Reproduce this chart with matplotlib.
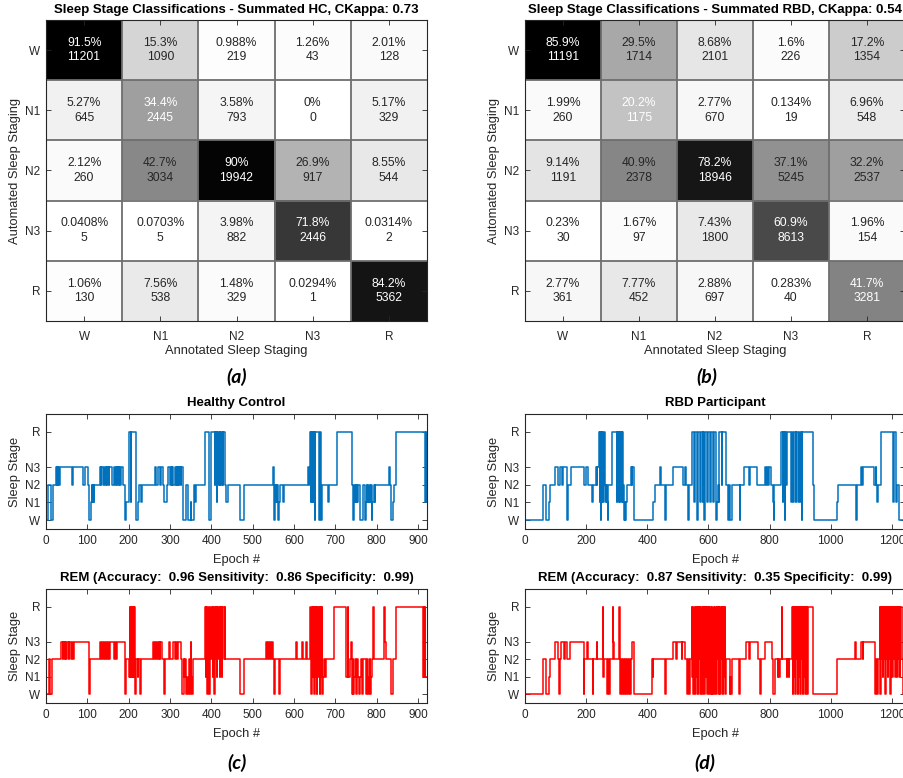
import matplotlib
matplotlib.use('agg')
import matplotlib.pyplot as plt
import numpy as np

plt.rcParams['font.family'] = ['Liberation Sans', 'DejaVu Sans']

# confusion matrices: rows = automated, columns = annotated
stages = ['W', 'N1', 'N2', 'N3', 'R']
hc_counts = [[11201, 1090, 219, 43, 128],
             [645, 2445, 793, 0, 329],
             [260, 3034, 19942, 917, 544],
             [5, 5, 882, 2446, 2],
             [130, 538, 329, 1, 5362]]
rbd_counts = [[11191, 1714, 2101, 226, 1354],
              [260, 1175, 670, 19, 548],
              [1191, 2378, 18946, 5245, 2537],
              [30, 97, 1800, 8613, 154],
              [361, 452, 697, 40, 3281]]
hc_title = 'Sleep Stage Classifications - Summated HC, CKappa: 0.73'
rbd_title = 'Sleep Stage Classifications - Summated RBD, CKappa: 0.54'

stage_val = {'W': 0, 'N1': 1, 'N2': 2, 'N3': 3, 'R': 5}

# hypnograms as (start epoch, stage) change points
hc_end = 922
hc_auto = [(0, 'W'), (6, 'N2'), (12, 'W'), (16, 'N2'), (24, 'N3'), (26, 'N2'), (27, 'N3'), (29, 'N2'),
           (30, 'N3'), (32, 'N2'), (33, 'N3'), (62, 'N2'), (66, 'N3'), (90, 'N2'), (94, 'N3'),
           (102, 'N2'), (104, 'W'), (109, 'N1'), (111, 'N2'), (112, 'N1'), (114, 'N2'), (115, 'N1'),
           (117, 'N2'), (130, 'N3'), (133, 'N2'), (134, 'N3'), (137, 'N2'), (141, 'N3'), (143, 'N2'),
           (144, 'N3'), (147, 'N2'), (148, 'N3'), (152, 'N2'), (153, 'N3'), (159, 'N2'), (165, 'N3'),
           (167, 'N2'), (169, 'N3'), (172, 'N2'), (173, 'N3'), (176, 'N2'), (177, 'N3'), (180, 'N2'),
           (181, 'N3'), (187, 'N2'), (191, 'W'), (193, 'N1'), (202, 'R'), (205, 'N1'), (206, 'R'),
           (218, 'N1'), (219, 'W'), (222, 'N1'), (224, 'N2'), (229, 'N1'), (233, 'N2'), (264, 'N3'),
           (266, 'N2'), (270, 'N3'), (271, 'N2'), (272, 'N3'), (277, 'N2'), (278, 'N3'), (283, 'N2'),
           (286, 'N1'), (292, 'N2'), (296, 'N3'), (299, 'N2'), (302, 'N3'), (304, 'N2'), (305, 'N3'),
           (308, 'N2'), (312, 'N3'), (315, 'N2'), (316, 'N3'), (318, 'N2'), (319, 'N3'), (322, 'N2'),
           (323, 'N3'), (326, 'N2'), (327, 'N3'), (332, 'W'), (340, 'N2'), (344, 'W'), (350, 'N1'),
           (351, 'W'), (357, 'N1'), (359, 'N2'), (361, 'N1'), (363, 'N2'), (385, 'R'), (394, 'N1'),
           (395, 'W'), (399, 'R'), (408, 'N2'), (410, 'R'), (413, 'N1'), (414, 'R'), (417, 'N2'),
           (418, 'R'), (421, 'N2'), (422, 'R'), (424, 'N2'), (425, 'R'), (428, 'N2'), (429, 'R'),
           (432, 'N2'), (436, 'N1'), (440, 'N2'), (469, 'W'), (479, 'N2'), (549, 'N3'), (551, 'N2'),
           (552, 'W'), (553, 'N1'), (554, 'N2'), (555, 'N1'), (557, 'N2'), (558, 'N1'), (560, 'N2'),
           (561, 'N1'), (562, 'W'), (564, 'N1'), (567, 'N2'), (573, 'N1'), (575, 'N2'), (635, 'N3'),
           (637, 'N2'), (639, 'R'), (641, 'N1'), (642, 'R'), (644, 'N1'), (645, 'R'), (647, 'N1'),
           (648, 'R'), (650, 'W'), (651, 'R'), (660, 'W'), (662, 'R'), (665, 'W'), (667, 'N1'),
           (668, 'N2'), (683, 'N1'), (686, 'N2'), (703, 'R'), (740, 'N2'), (742, 'W'), (745, 'N2'),
           (747, 'N1'), (749, 'N2'), (750, 'N1'), (752, 'N2'), (753, 'N1'), (756, 'N2'), (760, 'W'),
           (768, 'N2'), (772, 'W'), (775, 'N1'), (776, 'N2'), (777, 'N1'), (779, 'N2'), (780, 'N1'),
           (783, 'N2'), (784, 'N1'), (787, 'N2'), (788, 'W'), (790, 'N1'), (793, 'N2'), (796, 'N1'),
           (797, 'N2'), (830, 'N3'), (832, 'N2'), (834, 'W'), (839, 'N1'), (841, 'N2'), (848, 'R'),
           (916, 'N1'), (917, 'R'), (918, 'N1'), (919, 'R'), (920, 'N1')]

hc_rem = [(0, 'W'), (8, 'N2'), (10, 'W'), (14, 'N2'), (36, 'N3'), (40, 'N2'), (42, 'N3'), (45, 'N2'),
          (46, 'N3'), (48, 'N2'), (50, 'N3'), (55, 'N2'), (56, 'N3'), (60, 'N2'), (62, 'N3'),
          (66, 'N2'), (67, 'N3'), (103, 'W'), (107, 'N2'), (130, 'N3'), (134, 'N2'), (135, 'N3'),
          (138, 'N2'), (140, 'N3'), (143, 'N2'), (145, 'N3'), (148, 'N2'), (149, 'N3'), (152, 'N2'),
          (154, 'N3'), (165, 'N2'), (166, 'N3'), (170, 'N2'), (171, 'N3'), (190, 'W'), (193, 'N2'),
          (202, 'N1'), (203, 'R'), (204, 'N1'), (205, 'R'), (207, 'N1'), (208, 'R'), (210, 'N1'),
          (211, 'R'), (213, 'N1'), (214, 'R'), (216, 'W'), (218, 'N1'), (219, 'N2'), (222, 'N1'),
          (223, 'N2'), (228, 'W'), (230, 'N2'), (258, 'N3'), (261, 'N2'), (263, 'N3'), (266, 'N2'),
          (268, 'N3'), (270, 'N2'), (273, 'N3'), (275, 'N2'), (277, 'N3'), (281, 'N2'), (286, 'W'),
          (288, 'N2'), (297, 'N3'), (299, 'N2'), (307, 'N3'), (312, 'N2'), (314, 'N3'), (318, 'N2'),
          (320, 'N3'), (326, 'N2'), (330, 'W'), (333, 'N2'), (335, 'N1'), (337, 'N2'), (339, 'W'),
          (341, 'N1'), (343, 'W'), (345, 'N1'), (347, 'N2'), (348, 'W'), (350, 'N3'), (351, 'N1'),
          (353, 'W'), (356, 'N2'), (385, 'R'), (387, 'N1'), (388, 'R'), (390, 'W'), (392, 'R'),
          (394, 'W'), (396, 'N1'), (398, 'R'), (400, 'N2'), (402, 'R'), (404, 'N1'), (405, 'R'),
          (407, 'W'), (409, 'R'), (411, 'N2'), (412, 'R'), (414, 'N1'), (415, 'R'), (417, 'N2'),
          (418, 'R'), (420, 'N1'), (421, 'R'), (423, 'N2'), (424, 'R'), (426, 'N1'), (427, 'R'),
          (430, 'N2'), (432, 'R'), (434, 'N2'), (470, 'W'), (478, 'N2'), (533, 'N3'), (536, 'N2'),
          (537, 'N3'), (540, 'N2'), (542, 'N3'), (545, 'N2'), (546, 'N3'), (550, 'N2'), (552, 'W'),
          (554, 'N2'), (564, 'W'), (566, 'N2'), (606, 'N3'), (608, 'N2'), (620, 'N3'), (622, 'N2'),
          (630, 'N3'), (632, 'N2'), (640, 'R'), (642, 'W'), (644, 'R'), (645, 'N1'), (647, 'R'),
          (648, 'W'), (650, 'R'), (652, 'N1'), (653, 'R'), (655, 'W'), (657, 'R'), (658, 'N1'),
          (660, 'R'), (662, 'W'), (664, 'R'), (666, 'N1'), (667, 'R'), (669, 'W'), (671, 'N1'),
          (673, 'N2'), (676, 'N1'), (678, 'N2'), (697, 'R'), (727, 'N1'), (730, 'R'), (732, 'N1'),
          (735, 'N2'), (738, 'N3'), (740, 'W'), (742, 'N2'), (744, 'W'), (746, 'N1'), (748, 'N2'),
          (750, 'W'), (752, 'N2'), (755, 'N1'), (757, 'W'), (759, 'N1'), (762, 'N2'), (764, 'W'),
          (766, 'N1'), (768, 'N2'), (775, 'W'), (778, 'N2'), (780, 'W'), (782, 'N1'), (783, 'N2'),
          (785, 'W'), (787, 'N1'), (789, 'N2'), (791, 'R'), (793, 'N2'), (818, 'R'), (820, 'N3'),
          (822, 'N2'), (835, 'W'), (840, 'N2'), (846, 'R'), (913, 'N1'), (914, 'R'), (915, 'N1'),
          (916, 'R'), (917, 'N1')]

rbd_end = 1243
rbd_auto = [(0, 'W'), (58, 'N1'), (60, 'N2'), (68, 'W'), (80, 'N1'), (82, 'N2'), (98, 'N3'), (108, 'N2'),
            (113, 'N3'), (122, 'N2'), (124, 'N3'), (138, 'W'), (141, 'N2'), (150, 'N3'), (193, 'N2'),
            (201, 'N3'), (205, 'N2'), (220, 'N1'), (222, 'N2'), (232, 'N3'), (234, 'N2'), (236, 'N3'),
            (241, 'R'), (244, 'N1'), (246, 'R'), (249, 'W'), (250, 'R'), (252, 'N1'), (253, 'R'),
            (256, 'N1'), (257, 'R'), (262, 'N2'), (264, 'N1'), (266, 'N2'), (268, 'N1'), (270, 'W'),
            (273, 'N2'), (283, 'R'), (300, 'N1'), (302, 'R'), (304, 'N2'), (305, 'R'), (307, 'N1'),
            (308, 'R'), (310, 'N1'), (311, 'R'), (313, 'N2'), (314, 'R'), (316, 'N1'), (317, 'R'),
            (319, 'N1'), (321, 'N2'), (323, 'W'), (326, 'N1'), (328, 'W'), (331, 'N1'), (333, 'N2'),
            (348, 'N3'), (350, 'N2'), (351, 'N3'), (356, 'N2'), (358, 'W'), (420, 'N1'), (424, 'N2'),
            (443, 'N3'), (446, 'N2'), (459, 'W'), (461, 'N2'), (484, 'N3'), (517, 'N2'), (522, 'N3'),
            (526, 'N2'), (534, 'W'), (537, 'N2'), (545, 'R'), (553, 'N1'), (555, 'R'), (563, 'W'),
            (565, 'R'), (573, 'N1'), (575, 'R'), (581, 'N1'), (583, 'R'), (586, 'W'), (588, 'R'),
            (595, 'N1'), (597, 'R'), (605, 'N1'), (607, 'R'), (615, 'N1'), (617, 'R'), (626, 'W'),
            (628, 'N1'), (632, 'N2'), (634, 'N1'), (636, 'R'), (644, 'N2'), (645, 'R'), (658, 'N2'),
            (664, 'N1'), (665, 'W'), (668, 'N2'), (670, 'W'), (678, 'N2'), (702, 'W'), (704, 'N2'),
            (716, 'N3'), (734, 'N2'), (737, 'N3'), (760, 'N2'), (785, 'N3'), (788, 'N2'), (790, 'N3'),
            (795, 'N2'), (797, 'N3'), (806, 'N2'), (810, 'N1'), (813, 'W'), (815, 'N2'), (839, 'R'),
            (843, 'N1'), (845, 'R'), (850, 'W'), (852, 'R'), (855, 'N2'), (856, 'R'), (870, 'N1'),
            (872, 'R'), (878, 'N1'), (880, 'R'), (886, 'N1'), (888, 'R'), (893, 'N1'), (895, 'R'),
            (900, 'N1'), (902, 'R'), (905, 'W'), (907, 'R'), (942, 'N2'), (944, 'W'), (1020, 'N1'),
            (1023, 'N2'), (1082, 'W'), (1085, 'N2'), (1100, 'N3'), (1103, 'N2'), (1105, 'N3'),
            (1143, 'N2'), (1147, 'N3'), (1149, 'N2'), (1150, 'N1'), (1152, 'N2'), (1153, 'N1'),
            (1156, 'N2'), (1165, 'R'), (1203, 'N1'), (1206, 'R'), (1212, 'N2'), (1215, 'N1'),
            (1218, 'N2'), (1225, 'W')]

rbd_rem = [(0, 'W'), (60, 'N2'), (69, 'W'), (80, 'N1'), (82, 'N2'), (98, 'N3'), (108, 'N2'), (112, 'W'),
           (114, 'N2'), (118, 'N3'), (128, 'N2'), (132, 'N3'), (138, 'N2'), (148, 'N3'), (192, 'W'),
           (194, 'N2'), (202, 'N3'), (206, 'N2'), (222, 'W'), (224, 'N2'), (234, 'N3'), (236, 'N2'),
           (254, 'R'), (256, 'N1'), (258, 'N2'), (268, 'W'), (270, 'N2'), (276, 'W'), (278, 'N2'),
           (287, 'R'), (289, 'N3'), (292, 'N2'), (309, 'R'), (311, 'W'), (313, 'N2'), (318, 'W'),
           (320, 'N2'), (325, 'W'), (327, 'N2'), (332, 'W'), (334, 'N2'), (338, 'W'), (340, 'N2'),
           (344, 'W'), (346, 'N2'), (349, 'N3'), (358, 'W'), (414, 'N2'), (418, 'N1'), (420, 'N2'),
           (459, 'W'), (461, 'N2'), (485, 'N3'), (494, 'N2'), (497, 'N3'), (512, 'N2'), (515, 'N3'),
           (522, 'N2'), (530, 'W'), (532, 'N2'), (538, 'W'), (540, 'N2'), (545, 'R'), (547, 'N1'),
           (549, 'R'), (551, 'W'), (553, 'N2'), (555, 'R'), (557, 'W'), (559, 'R'), (561, 'N1'),
           (563, 'R'), (565, 'W'), (567, 'R'), (569, 'N2'), (571, 'R'), (573, 'W'), (575, 'N1'),
           (577, 'R'), (579, 'W'), (581, 'R'), (583, 'N2'), (585, 'R'), (587, 'W'), (589, 'R'),
           (591, 'N1'), (593, 'R'), (595, 'W'), (597, 'R'), (599, 'N2'), (601, 'R'), (603, 'W'),
           (605, 'R'), (607, 'N1'), (609, 'W'), (611, 'R'), (613, 'W'), (615, 'N2'), (617, 'R'),
           (619, 'W'), (621, 'N1'), (623, 'R'), (625, 'W'), (627, 'R'), (629, 'N2'), (631, 'R'),
           (633, 'W'), (635, 'R'), (637, 'N1'), (639, 'W'), (641, 'R'), (643, 'N2'), (645, 'R'),
           (647, 'W'), (649, 'R'), (651, 'N1'), (653, 'R'), (655, 'W'), (658, 'N2'), (670, 'W'),
           (672, 'N1'), (674, 'W'), (676, 'N2'), (700, 'W'), (702, 'N2'), (722, 'N3'), (732, 'N2'),
           (736, 'N3'), (762, 'N2'), (770, 'W'), (773, 'N2'), (785, 'N3'), (808, 'N2'), (812, 'W'),
           (818, 'N2'), (826, 'N1'), (828, 'N2'), (832, 'N1'), (834, 'N2'), (840, 'R'), (842, 'N2'),
           (856, 'N1'), (858, 'N2'), (862, 'N1'), (864, 'N2'), (874, 'R'), (876, 'W'), (878, 'R'),
           (880, 'N1'), (882, 'R'), (884, 'W'), (886, 'R'), (888, 'N2'), (890, 'R'), (892, 'W'),
           (894, 'R'), (896, 'N1'), (898, 'R'), (900, 'W'), (902, 'R'), (904, 'N2'), (906, 'R'),
           (908, 'W'), (910, 'R'), (912, 'N1'), (914, 'R'), (916, 'W'), (918, 'R'), (920, 'N2'),
           (922, 'R'), (924, 'W'), (926, 'R'), (942, 'W'), (1020, 'N2'), (1081, 'N3'), (1083, 'N2'),
           (1100, 'N3'), (1104, 'N2'), (1106, 'N3'), (1144, 'W'), (1147, 'N2'), (1150, 'W'),
           (1154, 'N2'), (1160, 'R'), (1162, 'W'), (1164, 'R'), (1166, 'N2'), (1168, 'R'),
           (1170, 'N1'), (1172, 'R'), (1174, 'N2'), (1176, 'R'), (1178, 'W'), (1180, 'R'),
           (1182, 'N2'), (1184, 'R'), (1186, 'N1'), (1188, 'R'), (1190, 'N2'), (1192, 'R'),
           (1194, 'W'), (1196, 'R'), (1198, 'N2'), (1200, 'R'), (1202, 'N1'), (1204, 'R'),
           (1206, 'N2'), (1208, 'R'), (1210, 'N1'), (1212, 'R'), (1214, 'N2'), (1216, 'R'),
           (1218, 'N1'), (1220, 'R'), (1222, 'N2'), (1224, 'R'), (1226, 'N1'), (1228, 'R'),
           (1232, 'N2'), (1236, 'W')]

hc_rem_title = 'REM (Accuracy:  0.96 Sensitivity:  0.86 Specificity:  0.99)'
rbd_rem_title = 'REM (Accuracy:  0.87 Sensitivity:  0.35 Specificity:  0.99)'

W, H = 904, 778
fig = plt.figure(figsize=(W / 100, H / 100), dpi=100)
txt_col = '#262626'


def px_axes(l, t, r, b):
    return fig.add_axes([l / W, 1 - b / H, (r - l) / W, (b - t) / H])


def style_axes(ax):
    for sp in ax.spines.values():
        sp.set_color(txt_col)
        sp.set_linewidth(0.8)
    ax.tick_params(direction='in', top=True, right=True, length=3.5, width=0.6,
                   colors=txt_col, labelsize=8.5, pad=4)


def conf_chart(ax, counts, title):
    c = np.array(counts, dtype=float)
    pct = c / c.sum(axis=0) * 100
    ax.imshow(pct, cmap='gray_r', vmin=0, vmax=pct.max(), aspect='auto',
              interpolation='nearest')
    for i in range(5):
        for j in range(5):
            col = 'white' if i == j else txt_col
            ax.text(j, i, '{:.3g}%\n{}'.format(pct[i, j], counts[i][j]), ha='center',
                    va='center', fontsize=8.7, color=col, linespacing=1.3)
    for k in range(1, 5):
        ax.axhline(k - 0.5, color='#6e6e6e', lw=1.3)
        ax.axvline(k - 0.5, color='#6e6e6e', lw=1.3)
    ax.set_xticks(range(5))
    ax.set_xticklabels(stages)
    ax.set_yticks(range(5))
    ax.set_yticklabels(stages)
    style_axes(ax)
    ax.tick_params(axis='x', pad=7)
    ax.set_xlabel('Annotated Sleep Staging', fontsize=9.3, color=txt_col)
    ax.set_ylabel('Automated Sleep Staging', fontsize=9.3, color=txt_col)
    ax.xaxis.set_label_coords(0.5, -30 / 301)
    ax.xaxis.label.set_va('center')
    ax.yaxis.set_label_coords(-31 / 381, 0.5)
    ax.yaxis.label.set_va('center')
    ax.text(0.5, 1 + 10 / 301, title, transform=ax.transAxes, ha='center', va='center',
            fontsize=9.5, fontweight='bold', color='black')


def hypnogram(ax, seg, end, color, title, step):
    ep = [s[0] for s in seg] + [end]
    st = [stage_val[s[1]] for s in seg]
    st = st + [st[-1]]
    ax.step(ep, st, where='post', color=color, lw=1.1)
    ax.set_xlim(0, end)
    ax.set_ylim(-0.5, 6)
    ax.set_yticks([0, 1, 2, 3, 5])
    ax.set_yticklabels(['W', 'N1', 'N2', 'N3', 'R'])
    ax.set_xticks(np.arange(0, end, step))
    style_axes(ax)
    ax.set_xlabel('Epoch #', fontsize=9.3, color=txt_col)
    ax.set_ylabel('Sleep Stage', fontsize=9.3, color=txt_col)
    ax.xaxis.set_label_coords(0.5, -31 / 115)
    ax.xaxis.label.set_va('center')
    ax.yaxis.set_label_coords(-31 / 381, 0.5)
    ax.yaxis.label.set_va('center')
    ax.text(0.5, 1 + 11 / 115, title, transform=ax.transAxes, ha='center', va='center',
            fontsize=9.5, fontweight='bold', color='black')


ax_a = px_axes(46, 20, 427, 321)
conf_chart(ax_a, hc_counts, hc_title)
ax_b = px_axes(525, 20, 905, 321)
conf_chart(ax_b, rbd_counts, rbd_title)

blue = '#0072BD'
ax_c1 = px_axes(46, 414, 427, 529)
hypnogram(ax_c1, hc_auto, hc_end, blue, 'Healthy Control', 100)
ax_d1 = px_axes(525, 414, 905, 529)
hypnogram(ax_d1, rbd_auto, rbd_end, blue, 'RBD Participant', 200)
ax_c2 = px_axes(46, 589, 427, 703)
hypnogram(ax_c2, hc_rem, hc_end, '#FF0000', hc_rem_title, 100)
ax_d2 = px_axes(525, 589, 905, 703)
hypnogram(ax_d2, rbd_rem, rbd_end, '#FF0000', rbd_rem_title, 200)

for lab, x, y in [('(a)', 237, 377), ('(b)', 707, 377), ('(c)', 237, 763), ('(d)', 705, 763)]:
    fig.text(x / W, 1 - y / H, lab, ha='center', va='center', fontsize=14,
             fontweight='bold', fontstyle='italic', family=['Lato', 'DejaVu Sans'])

fig.savefig('out.png', dpi=100)
